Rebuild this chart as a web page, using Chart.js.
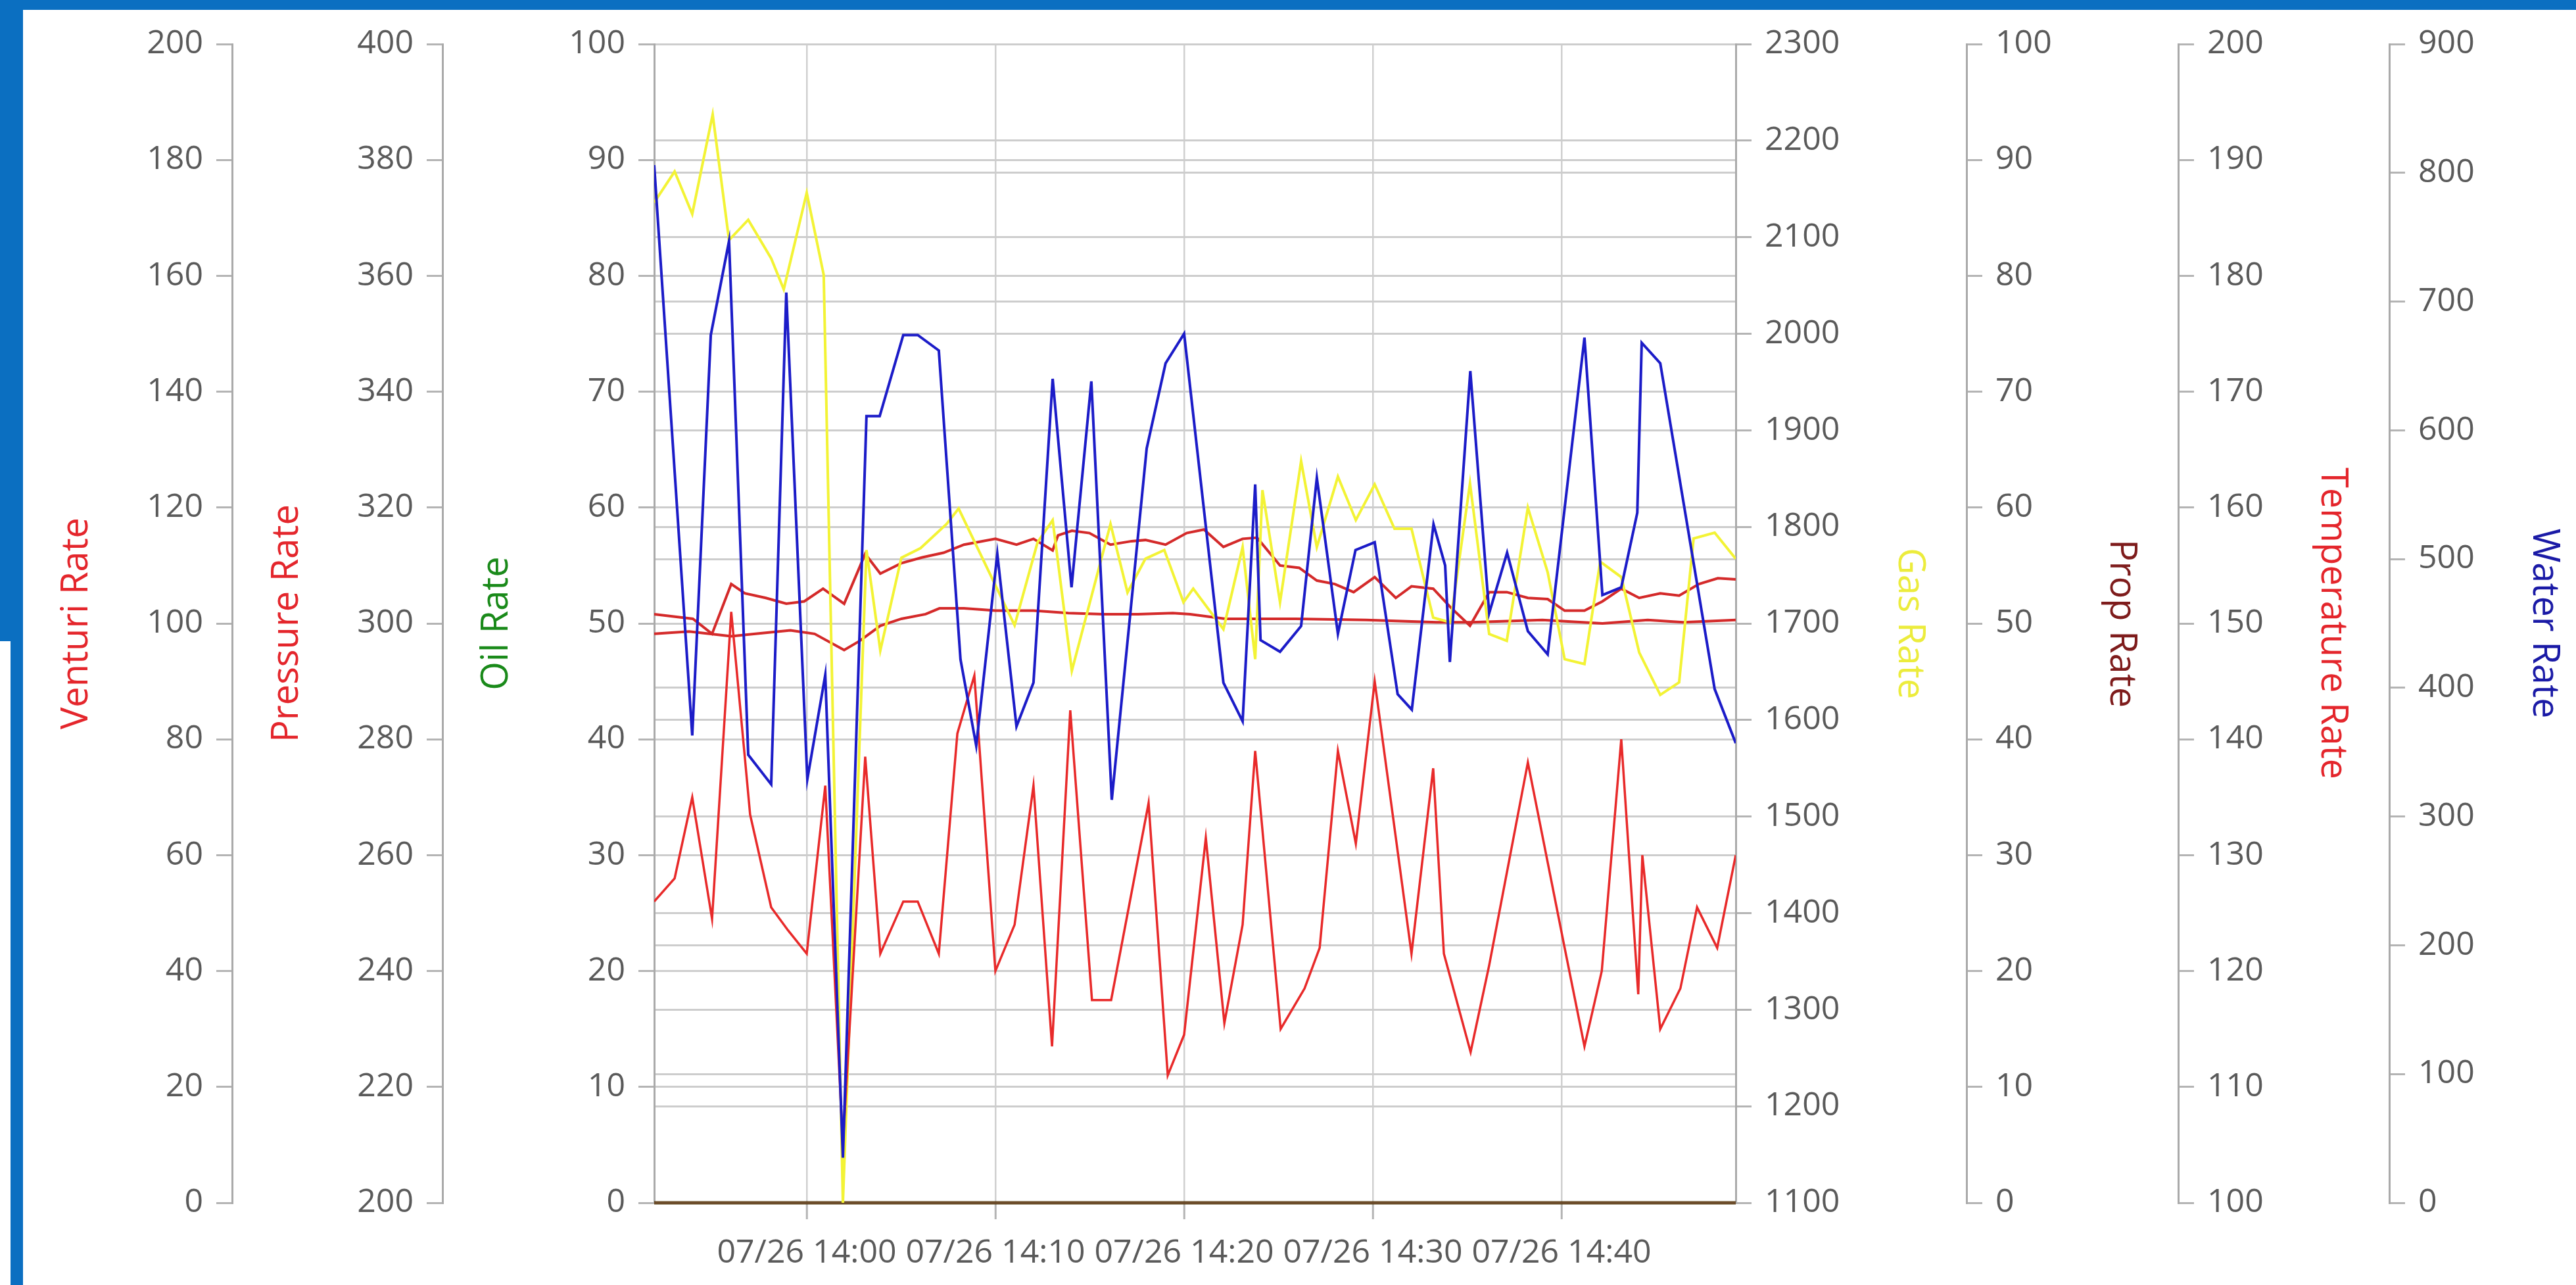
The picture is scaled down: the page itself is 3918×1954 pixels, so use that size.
<!DOCTYPE html>
<html>
<head>
<meta charset="utf-8">
<script src="https://cdn.jsdelivr.net/npm/chart.js@4.4.1/dist/chart.umd.min.js"></script>
<style>
  html, body { margin: 0; padding: 0; background: #fff; overflow: hidden; }
  #wrap { position: relative; width: 3918px; height: 1954px; }
  #myChart { display: block; }
  .frame { position: absolute; background: #0b6fc1; }
</style>
</head>
<body>
<div id="wrap">
  <canvas id="myChart" width="3918" height="1954"></canvas>
  <div class="frame" style="left:0;top:0;width:3918px;height:15px"></div>
  <div class="frame" style="left:0;top:0;width:35px;height:975px"></div>
  <div class="frame" style="left:16px;top:975px;width:19px;height:979px"></div>
</div>
<script>
// time axis
const datePrefix = '07/26'
const timeTicks = ['14:00', '14:10', '14:20', '14:30', '14:40']
const firstTime = '13:51:55'
const lastTime = '14:49:14'

// Water Rate (blue)
const waterTimes = ['13:51:55','13:53:56','13:54:55','13:55:53','13:56:54','13:58:07','13:58:55','14:00:02','14:00:59','14:01:55',
    '14:03:10','14:03:52','14:05:07','14:05:53','14:07:00','14:08:09','14:08:59','14:10:06','14:11:07','14:12:01',
    '14:13:02','14:14:02','14:15:05','14:16:10','14:18:01','14:19:01','14:20:00','14:22:05','14:23:06','14:23:46',
    '14:24:03','14:25:05','14:26:12','14:27:02','14:28:09','14:29:05','14:30:06','14:31:19','14:32:04','14:33:13',
    '14:33:50','14:34:05','14:35:10','14:36:10','14:37:07','14:38:13','14:39:16','14:41:13','14:42:10','14:43:10',
    '14:44:01','14:44:15','14:45:14','14:48:07','14:49:14']
const waterRate = [806,363,674,747,348,325,707,329,410,35,
    611,611,674,674,662,422,355,504,370,404,
    640,478,638,313,586,652,675,404,374,558,
    437,428,448,563,442,507,513,395,383,527,
    495,420,646,458,505,444,426,672,472,478,
    536,668,652,399,357]

// Gas Rate (yellow)
const gasTimes = ['13:51:55','13:53:00','13:53:56','13:55:01','13:55:53','13:56:54','13:58:07','13:58:47','14:00:00','14:00:54',
    '14:01:55','14:03:10','14:03:54','14:05:01','14:06:02','14:07:25','14:08:03','14:11:01','14:12:14','14:13:02',
    '14:14:03','14:16:06','14:17:00','14:17:57','14:18:57','14:19:58','14:20:29','14:22:05','14:23:06','14:23:46',
    '14:24:09','14:25:05','14:26:12','14:27:02','14:28:09','14:29:06','14:30:06','14:31:09','14:32:03','14:33:12',
    '14:34:07','14:35:09','14:36:10','14:37:06','14:38:13','14:39:16','14:40:10','14:41:13','14:42:03','14:43:10',
    '14:44:07','14:45:14','14:46:14','14:47:00','14:48:07','14:49:14']
const gasRate = [2136,2168,2124,2227,2097,2118,2078,2046,2146,2061,
    1100,1776,1672,1768,1778,1803,1819,1698,1784,1807,
    1651,1803,1732,1767,1776,1722,1736,1694,1779,1663,
    1838,1722,1868,1779,1852,1807,1844,1798,1798,1706,
    1701,1845,1689,1682,1820,1753,1663,1658,1764,1748,
    1670,1626,1639,1788,1794,1767]

// Venturi Rate (red, jagged)
const venturiTimes = ['13:51:55','13:53:00','13:53:56','13:54:59','13:56:00','13:56:43','13:57:00','13:58:07','13:59:01','14:00:00',
    '14:00:59','14:01:55','14:03:06','14:03:54','14:05:07','14:05:53','14:07:00','14:07:59','14:08:53','14:10:00',
    '14:11:01','14:12:01','14:13:00','14:13:58','14:15:07','14:16:08','14:18:07','14:19:08','14:20:00','14:21:09',
    '14:22:08','14:23:06','14:23:46','14:25:07','14:26:23','14:27:11','14:28:09','14:29:06','14:30:06','14:32:03',
    '14:33:12','14:33:46','14:35:11','14:36:10','14:38:13','14:40:10','14:41:13','14:42:08','14:43:10','14:44:04',
    '14:44:17','14:45:14','14:46:18','14:47:11','14:48:15','14:49:14']
const venturiRate = [52,56,70,49,102,77,67,51,47,43,
    72,10,77,43,52,52,43,81,91,40,
    48,72,27,85,35,35,69,22,29,63,
    31,48,78,30,37,44,78,62,90,43,
    75,43,26,41,76,44,27,40,80,36,
    60,30,37,51,44,60]

// Pressure Rate (red, upper smooth)
const pressureTimes = ['13:51:55','13:53:58','13:54:59','13:56:00','13:56:43','13:57:50','13:58:55','13:59:52','14:00:52','14:01:59',
    '14:03:06','14:03:54','14:05:01','14:06:08','14:07:15','14:08:20','14:10:00','14:11:07','14:12:01','14:13:02',
    '14:13:19','14:14:03','14:14:59','14:16:06','14:17:13','14:17:57','14:19:01','14:20:08','14:21:03','14:22:05',
    '14:23:06','14:23:52','14:25:05','14:26:06','14:27:02','14:27:59','14:28:59','14:30:06','14:31:13','14:32:03',
    '14:33:12','14:34:07','14:35:09','14:36:10','14:37:06','14:38:13','14:39:16','14:40:10','14:41:13','14:42:10',
    '14:43:10','14:44:07','14:45:14','14:46:14','14:47:17','14:48:17','14:49:14']
const pressureRate = [301.6,300.8,298.2,306.8,305.2,304.4,303.4,303.8,306,303.4,
    312,308.6,310.4,311.4,312.2,313.6,314.6,313.6,314.6,312.6,
    315.2,316,315.6,313.6,314.2,314.4,313.6,315.6,316.2,313.2,
    314.6,314.8,310,309.6,307.4,306.8,305.4,308,304.4,306.4,
    306,302.8,299.6,305.4,305.4,304.4,304.2,302.2,302.2,303.8,
    306,304.4,305.2,304.8,306.8,307.8,307.6]

// Temperature Rate (red, lower smooth)
const temperatureTimes = ['13:51:55','13:53:46','13:56:00','13:57:17','13:59:08','14:00:25','14:01:59','14:02:49','14:03:54','14:05:01',
    '14:06:18','14:07:02','14:08:20','14:10:00','14:12:01','14:13:52','14:15:43','14:17:34','14:19:24','14:20:19',
    '14:22:11','14:25:55','14:29:39','14:33:23','14:35:13','14:38:59','14:42:10','14:44:34','14:46:27','14:49:14']
const temperatureRate = [149.1,149.3,148.9,149.1,149.4,149.1,147.7,148.5,149.8,150.4,
    150.8,151.3,151.3,151.1,151.1,150.9,150.8,150.8,150.9,150.8,
    150.4,150.4,150.3,150.1,150.1,150.3,150.0,150.3,150.1,150.3]

// Oil Rate and Prop Rate stay at zero
const flatTimes = ['13:51:55','13:55:53','14:00:00','14:05:07','14:10:00','14:15:05','14:20:00',
    '14:25:05','14:30:06','14:35:10','14:40:10','14:45:14','14:49:14']
const oilRate = [0,0,0,0,0,0,0,0,0,0,0,0,0]
const propRate = [0,0,0,0,0,0,0,0,0,0,0,0,0]

const toMin = (t) => {
    const [h, m, s] = t.split(':').map(Number)
    return (h - 13) * 60 + m + (s || 0) / 60
}
const pts = (times, vals) => times.map((t, i) => ({ x: toMin(t), y: vals[i] }))

const AXIS_GREY = '#aaaaaa'
const GRID_GREY = '#cdcdcd'
const LABEL_GREY = '#5a5a5a'
const tickFont = { family: "'Open Sans', sans-serif", size: 50 }
const titleFont = { family: "'Open Sans', sans-serif", size: 56 }

const yScale = (position, min, max, step, text, color, width, titlePad, onChart) => ({
    type: 'linear',
    position: position,
    min: min,
    max: max,
    ticks: { stepSize: step, color: LABEL_GREY, font: tickFont, padding: 20, callback: (v) => String(v) },
    grid: {
        drawOnChartArea: onChart,
        color: GRID_GREY,
        lineWidth: 3,
        tickLength: 24,
        tickColor: '#b4b4b4',
        tickWidth: 3
    },
    border: { display: true, color: AXIS_GREY, width: 3 },
    title: { display: true, text: text, color: color, font: titleFont, padding: { top: titlePad, bottom: 0 } },
    afterFit: (scale) => { scale.width = width }
})

const data = {
    datasets: [{
        label: 'Water Rate',
        data: pts(waterTimes, waterRate),
        yAxisID: 'water',
        borderColor: '#1c1cc8',
        borderWidth: 4
    },{
        label: 'Venturi Rate',
        data: pts(venturiTimes, venturiRate),
        yAxisID: 'venturi',
        borderColor: '#e82a2a',
        borderWidth: 3.5
    },{
        label: 'Gas Rate',
        data: pts(gasTimes, gasRate),
        yAxisID: 'gas',
        borderColor: '#f3f335',
        borderWidth: 4
    },{
        label: 'Pressure Rate',
        data: pts(pressureTimes, pressureRate),
        yAxisID: 'pressure',
        borderColor: '#d42a2a',
        borderWidth: 4
    },{
        label: 'Temperature Rate',
        data: pts(temperatureTimes, temperatureRate),
        yAxisID: 'temperature',
        borderColor: '#d42a2a',
        borderWidth: 4
    },{
        label: 'Prop Rate',
        data: pts(flatTimes, propRate),
        yAxisID: 'prop',
        borderColor: 'rgba(130,20,10,0.55)',
        borderWidth: 5,
        clip: false
    },{
        label: 'Oil Rate',
        data: pts(flatTimes, oilRate),
        yAxisID: 'oil',
        borderColor: 'rgba(0,110,0,0.55)',
        borderWidth: 5,
        clip: false
    }]
}

const config = {
    type: 'line',
    data: data,
    options: {
        responsive: false,
        animation: false,
        layout: { padding: { left: 32, right: 0, top: 67, bottom: 0 } },
        elements: {
            point: { radius: 0 },
            line: { tension: 0, fill: false }
        },
        plugins: {
            legend: { display: false },
            tooltip: { enabled: false }
        },
        scales: {
            x: {
                type: 'linear',
                position: 'bottom',
                min: toMin(firstTime),
                max: toMin(lastTime),
                afterBuildTicks: (scale) => { scale.ticks = timeTicks.map(t => ({ value: toMin(t) })) },
                ticks: {
                    autoSkip: false,
                    maxRotation: 0,
                    color: LABEL_GREY,
                    font: tickFont,
                    padding: 22,
                    callback: (v) => {
                        const h = 13 + Math.floor(v / 60)
                        const m = Math.round(v % 60)
                        return datePrefix + ' ' + h + ':' + String(m).padStart(2, '0')
                    }
                },
                grid: { color: '#d0d0d0', lineWidth: 2.5, tickLength: 25, tickColor: '#b4b4b4', tickWidth: 3 },
                border: { display: true, color: AXIS_GREY, width: 3 },
                afterFit: (scale) => { scale.height = 125 }
            },
            oil: yScale('left', 0, 100, 10, 'Oil Rate', '#1a8a1a', 322, 49, true),
            pressure: yScale('left', 200, 400, 20, 'Pressure Rate', '#e4262c', 320, 50, false),
            venturi: yScale('left', 0, 200, 20, 'Venturi Rate', '#e4262c', 321, 51, false),
            gas: yScale('right', 1100, 2300, 100, 'Gas Rate', '#ecec3c', 351, 53, true),
            prop: yScale('right', 0, 100, 10, 'Prop Rate', '#7e1c1c', 322, 53, false),
            temperature: yScale('right', 100, 200, 10, 'Temperature Rate', '#e4262c', 321, 53, false),
            water: yScale('right', 0, 900, 100, 'Water Rate', '#1a1aa6', 284, 15, true)
        }
    }
}

var myChart = new Chart(
    document.getElementById('myChart'),
    config
)
</script>
</body>
</html>
